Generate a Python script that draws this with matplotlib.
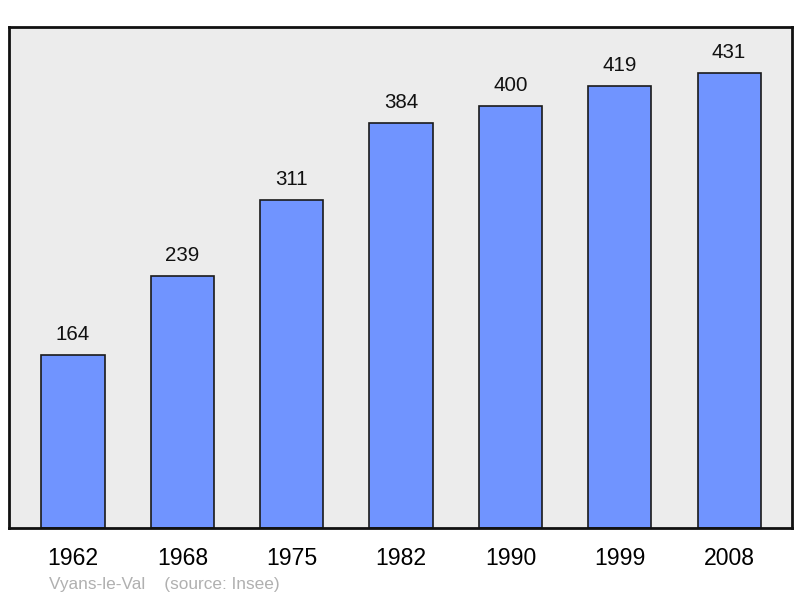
import matplotlib
matplotlib.use("Agg")
import matplotlib.pyplot as plt

years = ["1962", "1968", "1975", "1982", "1990", "1999", "2008"]
population = [164, 239, 311, 384, 400, 419, 431]

plt.rcParams["font.family"] = ["Liberation Sans", "DejaVu Sans"]

fig = plt.figure(figsize=(8, 5.98), dpi=100)
# axes box in pixels: left 9, right 792, top 27, bottom 528
ax = fig.add_axes([9 / 800, 1 - 528 / 598, 783 / 800, 501 / 598])
ax.set_facecolor("#ececec")

xs = list(range(len(years)))
ax.bar(xs, population, width=0.578, color="#7094ff", edgecolor="#1a1a1a", linewidth=1.2, zorder=2)

for x, v in zip(xs, population):
    ax.text(x, v + 10.5, str(v), ha="center", va="bottom", fontsize=14.8, color="#111111")

ax.set_xlim(-0.585, 6.575)
ax.set_ylim(0, 474.6)
ax.set_yticks([])
ax.set_xticks(xs)
ax.set_xticklabels(years, fontsize=16.6)
ax.tick_params(axis="x", length=0, pad=14)

for s in ax.spines.values():
    s.set_linewidth(2)
    s.set_color("#111111")

fig.text(49 / 800, 1 - 584 / 598, "Vyans-le-Val    (source: Insee)", fontsize=12.4, color="#b0b0b0",
         ha="left", va="center")

fig.savefig("out.png", dpi=100)
